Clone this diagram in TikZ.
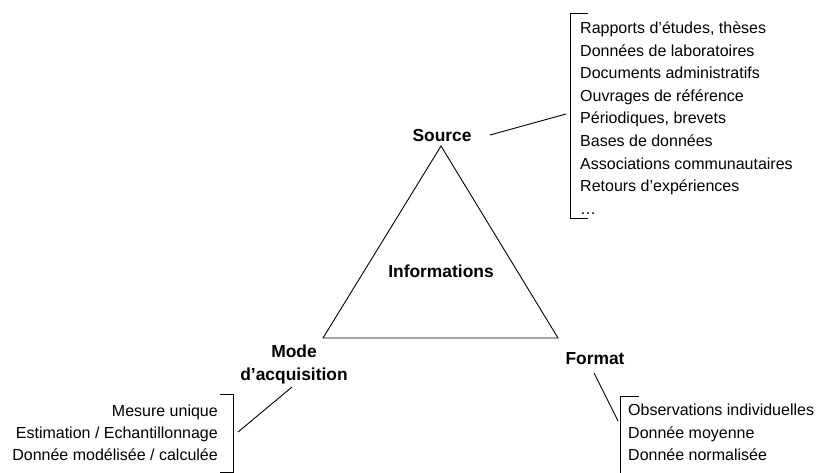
\documentclass[tikz,border=0pt]{standalone}
\usepackage{fontspec}
\setmainfont{Liberation Sans}
\begin{document}
\begin{tikzpicture}[x=1pt,y=-1pt,
  lbl/.style={font=\fontsize{17.4}{20}\selectfont\bfseries, inner sep=0pt},
  itm/.style={font=\fontsize{16}{19}\selectfont, inner sep=0pt, anchor=base west},
  itmr/.style={font=\fontsize{16}{19}\selectfont, inner sep=0pt, anchor=base east},
  ln/.style={line width=0.9pt}]
\useasboundingbox (0,0) rectangle (818,473);
% triangle
\coordinate (A) at (441,146);
\coordinate (B) at (323,338);
\coordinate (C) at (558,338);
\draw[ln, line join=miter] (A) -- (B) -- (C) -- cycle;
\node[lbl] (info) at (441,271) {Informations};
\node[lbl] (src) at (442,136) {Source};
\node[lbl, align=center] (mode) at (294,364) {Mode\\[3pt]d’acquisition};
\node[lbl] (fmt) at (595,359) {Format};
% source list
\coordinate (s1) at (588,13);
\coordinate (s2) at (570,13);
\coordinate (s3) at (570,218);
\coordinate (s4) at (588,218);
\draw[ln] (s1) -- (s2) -- (s3) -- (s4);
\foreach \t [count=\i] in {{Rapports d’études, thèses}, Données de laboratoires, Documents administratifs, Ouvrages de référence, {Périodiques, brevets}, Bases de données, Associations communautaires, Retours d’expériences, …}
  \node[itm] (sl\i) at (580,{28+5.5+(\i-1)*22.6}) {\t};
\coordinate (sc) at (566,114);
\coordinate (sa) at (490,135);
\draw[ln] (sa) -- (sc);
% mode list
\coordinate (m1) at (220,394);
\coordinate (m2) at (233,394);
\coordinate (m3) at (233,472);
\coordinate (m4) at (220,472);
\draw[ln] (m1) -- (m2) -- (m3) -- (m4);
\node[itmr] (ml1) at (218,416.5) {Mesure unique};
\node[itmr] (ml2) at (218,438.5) {Estimation / Echantillonnage};
\node[itmr] (ml3) at (218,460.5) {Donnée modélisée / calculée};
\coordinate (mc) at (238,432);
\coordinate (ma) at (292,387);
\draw[ln] (ma) -- (mc);
% format list
\coordinate (f1) at (639,396);
\coordinate (f2) at (620,396);
\coordinate (f3) at (620,473);
\draw[ln] (f1) -- (f2) -- (f3);
\node[itm] (fl1) at (628,415.5) {Observations individuelles};
\node[itm] (fl2) at (628,438.5) {Donnée moyenne};
\node[itm] (fl3) at (628,460.5) {Donnée normalisée};
\coordinate (fc) at (618,421);
\coordinate (fa) at (594,373);
\draw[ln] (fa) -- (fc);
\end{tikzpicture}
\end{document}
